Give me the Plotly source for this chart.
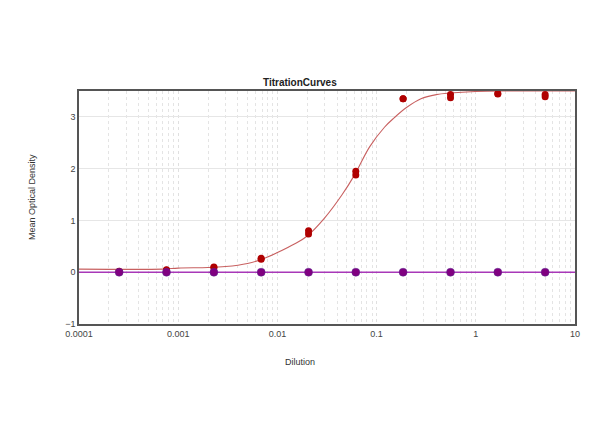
import plotly.graph_objects as go

# Dilution series
dilution = [0.000254, 0.000762, 0.00229, 0.00686, 0.0206, 0.0617, 0.185, 0.556, 1.667, 5.0]
# Replicate ODs (red sample)
red_rep1 = [0.02, 0.05, 0.10, 0.27, 0.80, 1.95, 3.35, 3.43, 3.45, 3.43]
red_rep2 = [0.01, 0.04, 0.09, 0.25, 0.74, 1.88, 3.35, 3.37, 3.44, 3.39]
# Blank / negative sample (purple)
purple_vals = [0.0, 0.0, 0.0, 0.0, 0.0, 0.0, 0.0, 0.0, 0.0, 0.0]

# Fitted curve
curve_x = [0.0001, 0.0007, 0.001, 0.002, 0.003, 0.005, 0.007, 0.01, 0.015, 0.02,
           0.03, 0.045, 0.06, 0.085, 0.12, 0.15, 0.2, 0.28, 0.4, 0.55, 1.0, 2.0, 10.0]
curve_y = [0.06, 0.06, 0.08, 0.09, 0.11, 0.17, 0.25, 0.38, 0.55, 0.70,
           1.05, 1.50, 1.88, 2.42, 2.80, 2.98, 3.18, 3.35, 3.43, 3.46, 3.49, 3.50, 3.50]
purple_line_x = [0.0001, 10.0]
purple_line_y = [0.0, 0.0]

x_tickvals = [0.0001, 0.001, 0.01, 0.1, 1, 10]
x_ticktext = ["0.0001", "0.001", "0.01", "0.1", "1", "10"]
minor_vals = [m * 10 ** e for e in range(-4, 1) for m in range(2, 10)]

fig = go.Figure()
fig.add_trace(go.Scatter(x=curve_x, y=curve_y, mode="lines", line=dict(color="#c86060", width=1.1, shape="spline"),
                         showlegend=False, hoverinfo="skip"))
fig.add_trace(go.Scatter(x=purple_line_x, y=purple_line_y, mode="lines", line=dict(color="#a838b8", width=1.5),
                         showlegend=False, hoverinfo="skip"))
fig.add_trace(go.Scatter(x=dilution + dilution, y=red_rep1 + red_rep2, mode="markers",
                         marker=dict(color="#b00000", size=7), showlegend=False))
fig.add_trace(go.Scatter(x=dilution, y=purple_vals, mode="markers",
                         marker=dict(color="#800080", size=8, line=dict(color="#5a2a90", width=0.5)), showlegend=False))

fig.update_xaxes(type="log", range=[-4, 1], tickvals=x_tickvals, ticktext=x_ticktext,
                 showgrid=True, gridcolor="#e0e0e0", griddash="dot", gridwidth=1,
                 minor=dict(tickvals=minor_vals, showgrid=True, gridcolor="#e4e4e4", griddash="dot"),
                 showline=True, linecolor="#555555", linewidth=1.5, mirror=True,
                 ticks="", zeroline=False, tickfont=dict(size=9, color="#444444"))
fig.update_yaxes(range=[-1, 3.5], tickvals=[-1, 0, 1, 2, 3], showgrid=True, gridcolor="#e6e6e6",
                 showline=True, linecolor="#555555", linewidth=1.5, mirror=True,
                 ticks="", zeroline=False, tickfont=dict(size=9, color="#444444"))

L, R, T, B = 79, 25, 91, 123
pw, ph = 600 - L - R, 447 - T - B
fig.update_layout(
    width=600, height=447,
    margin=dict(l=L, r=R, t=T, b=B),
    paper_bgcolor="white", plot_bgcolor="white",
    font=dict(family="Liberation Sans, Arial, sans-serif", size=9, color="#333333"),
    annotations=[
        dict(text="<b>TitrationCurves</b>", x=(300 - L) / pw, y=1 + (T - 75) / ph, xref="paper", yref="paper",
             showarrow=False, font=dict(size=10, color="#222222")),
        dict(text="Dilution", x=(300 - L) / pw, y=-(369 - (447 - B)) / ph, xref="paper", yref="paper",
             showarrow=False, font=dict(size=9, color="#333333")),
        dict(text="Mean Optical Density", x=(25 - L) / pw, y=((447 - B) - 197) / ph, xref="paper", yref="paper",
             showarrow=False, textangle=-90, font=dict(size=9, color="#333333")),
    ],
)

fig.write_html("out.html", config={"displayModeBar": False})
with open("out.html", "r", encoding="utf-8") as f:
    html = f.read()
html = html.replace("<head>", "<head><style>html,body{margin:0;padding:0;overflow:hidden}</style>", 1)
with open("out.html", "w", encoding="utf-8") as f:
    f.write(html)
